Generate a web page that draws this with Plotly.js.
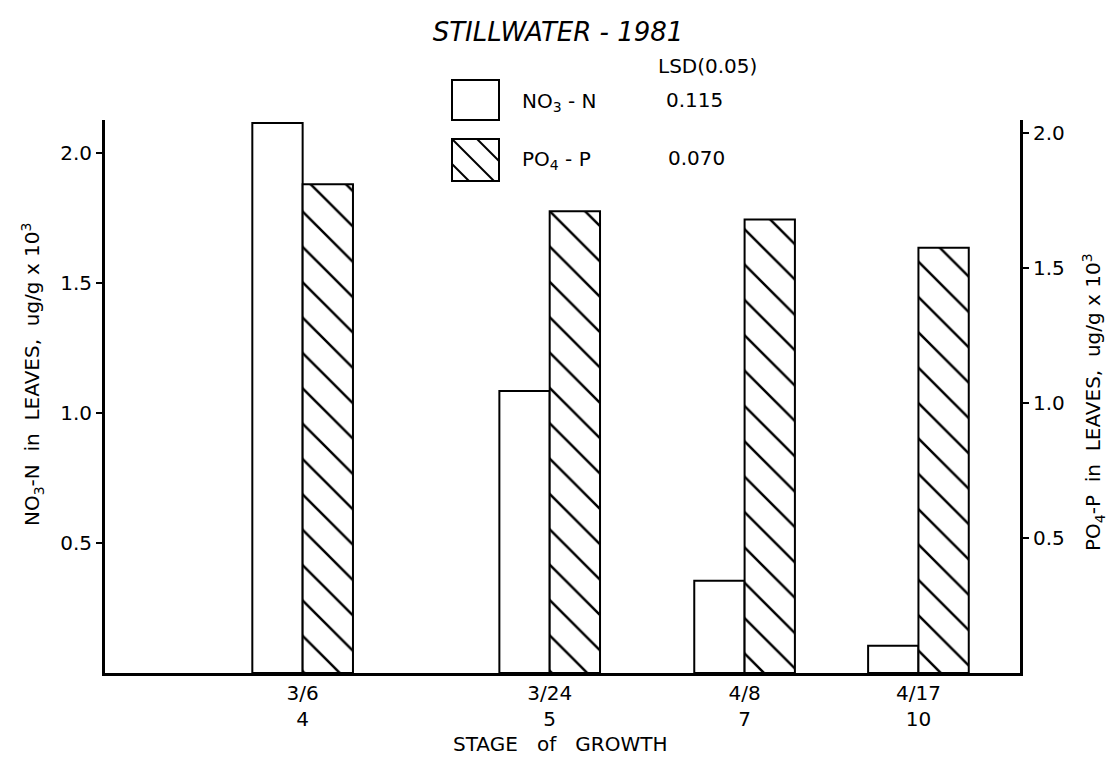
<!DOCTYPE html>
<html>
<head>
<meta charset="utf-8">
<script src="https://cdn.plot.ly/plotly-3.0.1.min.js"></script>
<style>html,body{margin:0;padding:0;background:#fff;}</style>
</head>
<body>
<div id="chart" style="width:1117px;height:778px;"></div>
<script>
// ---- data ----
const dates = ['3/6', '3/24', '4/8', '4/17'];
const stages = ['4', '5', '7', '10'];
const xPos = [2.16, 4.86, 6.99, 8.89];
const no3N = [2.115, 1.085, 0.355, 0.105];
const po4P = [1.81, 1.71, 1.68, 1.575];
const seriesNames = ['NO<sub>3</sub> - N', 'PO<sub>4</sub> - P'];
const lsdValues = ['0.115', '0.070'];

// ---- layout helpers ----
const W = 1117, H = 778;
const M = {l: 105, r: 97, t: 120, b: 105};
const PW = W - M.l - M.r, PH = H - M.t - M.b;
const px = x => (x - M.l) / PW;
const py = y => (H - M.b - y) / PH;
const FONT = 'DejaVu Sans, Liberation Sans, sans-serif';

const tickText = dates.map((d, i) => d + '<br>' + stages[i]);

const traces = [
  {
    type: 'bar', name: seriesNames[0], x: xPos, y: no3N,
    width: 0.55, offset: -0.55, yaxis: 'y',
    marker: {color: 'white', line: {color: 'black', width: 2}},
    showlegend: false, hoverinfo: 'x+y'
  },
  {
    type: 'bar', name: seriesNames[1], x: xPos, y: po4P,
    width: 0.55, offset: 0, yaxis: 'y2',
    marker: {
      color: 'white', line: {color: 'black', width: 2},
      pattern: {shape: '\\', fgcolor: 'black', bgcolor: 'white', size: 25, solidity: 0.1}
    },
    showlegend: false, hoverinfo: 'x+y'
  }
];

function hatchLines(x0, y0, x1, y1, cs) {
  const out = [];
  cs.forEach(c => {
    let pts = [];
    const cand = [[x0, x0 - c], [x1, x1 - c], [y0 + c, y0], [y1 + c, y1]];
    cand.forEach(p => {
      if (p[0] >= x0 - 0.01 && p[0] <= x1 + 0.01 && p[1] >= y0 - 0.01 && p[1] <= y1 + 0.01) pts.push(p);
    });
    if (pts.length >= 2) {
      pts.sort((a, b) => a[0] - b[0]);
      const a = pts[0], b = pts[pts.length - 1];
      out.push({type: 'line', xref: 'paper', yref: 'paper',
        x0: px(a[0]), y0: py(a[1]), x1: px(b[0]), y1: py(b[1]),
        line: {color: 'black', width: 2}});
    }
  });
  return out;
}

const shapes = [
  {type: 'rect', xref: 'paper', yref: 'paper', x0: px(452), y0: py(80), x1: px(499), y1: py(120),
   line: {color: 'black', width: 2}, fillcolor: 'white'},
  {type: 'rect', xref: 'paper', yref: 'paper', x0: px(452), y0: py(139), x1: px(499), y1: py(181),
   line: {color: 'black', width: 2}, fillcolor: 'white'}
].concat(hatchLines(452, 139, 499, 181, [288, 313, 338]));

function ann(text, x, y, opts) {
  return Object.assign({
    text: text, xref: 'paper', yref: 'paper', x: px(x), y: py(y),
    showarrow: false, xanchor: 'center', yanchor: 'middle',
    font: {family: FONT, size: 20, color: 'black'}
  }, opts || {});
}

const annotations = [
  ann('LSD(0.05)', 707, 66),
  ann(seriesNames[0], 520, 102, {xanchor: 'left'}),
  ann(lsdValues[0], 694, 100),
  ann(seriesNames[1], 520, 160, {xanchor: 'left'}),
  ann(lsdValues[1], 696, 158),
  ann('NO<sub>3</sub>-N  in  LEAVES,  ug/g x 10<sup>3</sup>', 32, 375, {textangle: -90}),
  ann('PO<sub>4</sub>-P  in  LEAVES,  ug/g x 10<sup>3</sup>', 1093, 402, {textangle: -90}),
  ann('STAGE   of   GROWTH', 560, 744)
];

const axisStyle = {
  showline: true, linecolor: 'black', linewidth: 3,
  showgrid: false, zeroline: false,
  tickfont: {family: FONT, size: 20, color: 'black'}
};

const layout = {
  width: W, height: H,
  margin: M,
  paper_bgcolor: 'white', plot_bgcolor: 'white',
  barmode: 'overlay',
  showlegend: false,
  title: {
    text: 'STILLWATER - 1981',
    font: {family: FONT, size: 26, style: 'italic', color: 'black'},
    x: px(558), xref: 'paper', xanchor: 'center',
    y: 1 - 32 / H, yref: 'container', yanchor: 'middle'
  },
  xaxis: Object.assign({}, axisStyle, {
    range: [0, 10], tickvals: xPos, ticktext: tickText, ticks: ''
  }),
  yaxis: Object.assign({}, axisStyle, {
    range: [0, PH / 260], tickvals: [0.5, 1.0, 1.5, 2.0],
    ticktext: ['0.5', '1.0', '1.5', '2.0'],
    ticks: 'outside', ticklen: 6, tickwidth: 2, tickcolor: 'black'
  }),
  yaxis2: Object.assign({}, axisStyle, {
    overlaying: 'y', side: 'right',
    range: [0, PH / 270], tickvals: [0.5, 1.0, 1.5, 2.0],
    ticktext: ['0.5', '1.0', '1.5', '2.0'],
    ticks: 'outside', ticklen: 6, tickwidth: 2, tickcolor: 'black'
  }),
  shapes: shapes,
  annotations: annotations
};

Plotly.newPlot('chart', traces, layout, {displayModeBar: false, staticPlot: true});
</script>
</body>
</html>
